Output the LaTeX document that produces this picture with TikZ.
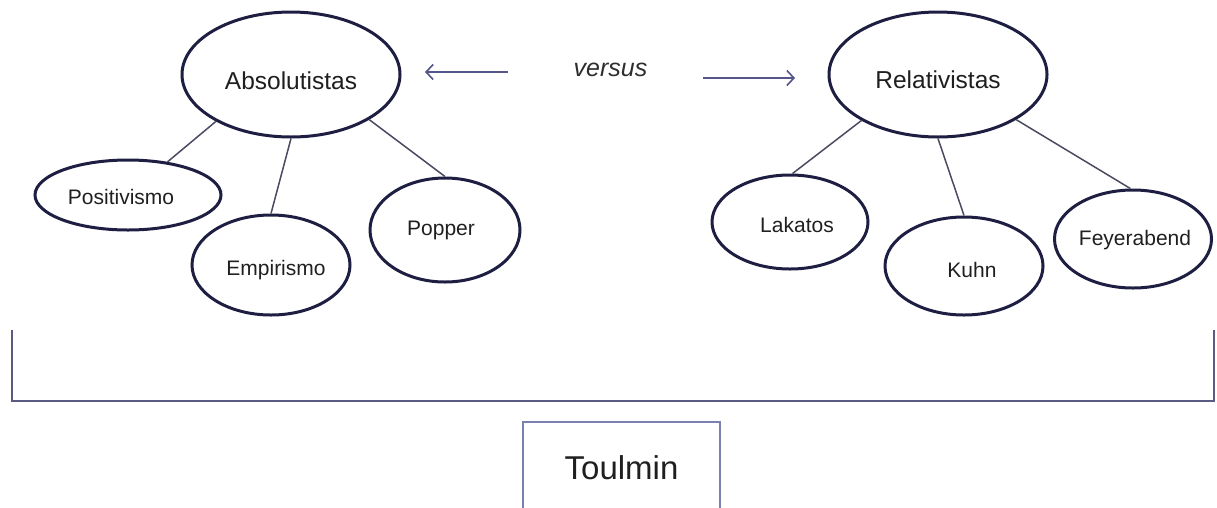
\documentclass[tikz,border=0pt]{standalone}
\usepackage{fontspec}
\setmainfont{Liberation Sans}
\usetikzlibrary{shapes.geometric,arrows.meta}

\definecolor{rim}{HTML}{1E1E42}
\definecolor{link}{HTML}{4A4A62}
\definecolor{arrowblue}{HTML}{55558A}
\definecolor{brace}{HTML}{5A5A82}
\definecolor{boxrim}{HTML}{7A80B2}

\tikzset{
  oval/.style={ellipse, draw=rim, line width=3pt, inner sep=0pt},
  bigoval/.style={oval, minimum width=218pt, minimum height=125pt},
  bigtext/.style={font=\fontsize{24.5}{28}\selectfont, text=black!88},
  smalltext/.style={font=\fontsize{21}{24}\selectfont, text=black!88},
  link/.style={draw=link, line width=1.5pt},
  versusarrow/.style={draw=arrowblue, line width=1.6pt,
    -{Straight Barb[length=7pt,width=15pt,line width=1.6pt]}},
  bracket/.style={draw=brace, line width=2pt},
  namebox/.style={rectangle, draw=boxrim, line width=2pt, fill=white,
    minimum width=197pt, minimum height=100pt,
    font=\fontsize{33}{38}\selectfont, text=black!88}
}

\begin{document}
\begin{tikzpicture}[x=1pt,y=-1pt]
  \useasboundingbox (0,0) rectangle (1217,507);
  \clip (0,0) rectangle (1217,507);

  % the two main schools
  \node[bigoval, label={[bigtext, yshift=-6.5pt]center:Absolutistas}] (abs) at (291,74.5) {};
  \node[bigoval, label={[bigtext, yshift=-5.5pt]center:Relativistas}] (rel) at (938,74.5) {};

  % positions grouped under each school
  \node[oval, minimum width=186pt, minimum height=70pt,
        label={[smalltext, xshift=-7pt, yshift=-2pt]center:Positivismo}] (pos) at (128,195) {};
  \node[oval, minimum width=158pt, minimum height=100pt,
        label={[smalltext, xshift=5pt, yshift=-5pt]center:Empirismo}] (emp) at (271,265) {};
  \node[oval, minimum width=150pt, minimum height=104pt,
        label={[smalltext, xshift=-4pt]center:Popper}] (pop) at (445,230) {};
  \node[oval, minimum width=156pt, minimum height=94pt,
        label={[smalltext, xshift=7pt, yshift=-3pt]center:Lakatos}] (lak) at (790,222) {};
  \node[oval, minimum width=158pt, minimum height=98pt,
        label={[smalltext, xshift=8pt, yshift=-3.5pt]center:Kuhn}] (kuh) at (964,266) {};
  \node[oval, minimum width=157pt, minimum height=98pt,
        label={[smalltext, xshift=2pt, yshift=-1pt]center:Feyerabend}] (fey) at (1133,239) {};

  \draw[link] (abs.212) -- (pos.40);
  \draw[link] (abs.270) -- (emp.90);
  \draw[link] (abs.-30) -- (pop.90);
  \draw[link] (rel.211) -- (lak.87);
  \draw[link] (rel.270) -- (kuh.90);
  \draw[link] (rel.-30) -- (fey.93);

  % versus with its two arrows
  \node[font=\fontsize{25}{28}\selectfont\itshape, text=black!82] (vs) at (610.5,70) {versus};
  \coordinate (la) at (508,72);
  \coordinate (lb) at (425,72);
  \coordinate (ra) at (703,78);
  \coordinate (rb) at (795,78);
  \draw[versusarrow] (la) -- (lb);
  \draw[versusarrow] (ra) -- (rb);

  % bracket spanning both schools
  \coordinate (b1) at (12,330);
  \coordinate (b2) at (12,401);
  \coordinate (b3) at (1214,401);
  \coordinate (b4) at (1214,330);
  \draw[bracket] (b1) -- (b2) -- (b3) -- (b4);

  % synthesis
  \node[namebox] (tou) at (621.5,472) {\raisebox{8pt}{Toulmin}};
\end{tikzpicture}
\end{document}
